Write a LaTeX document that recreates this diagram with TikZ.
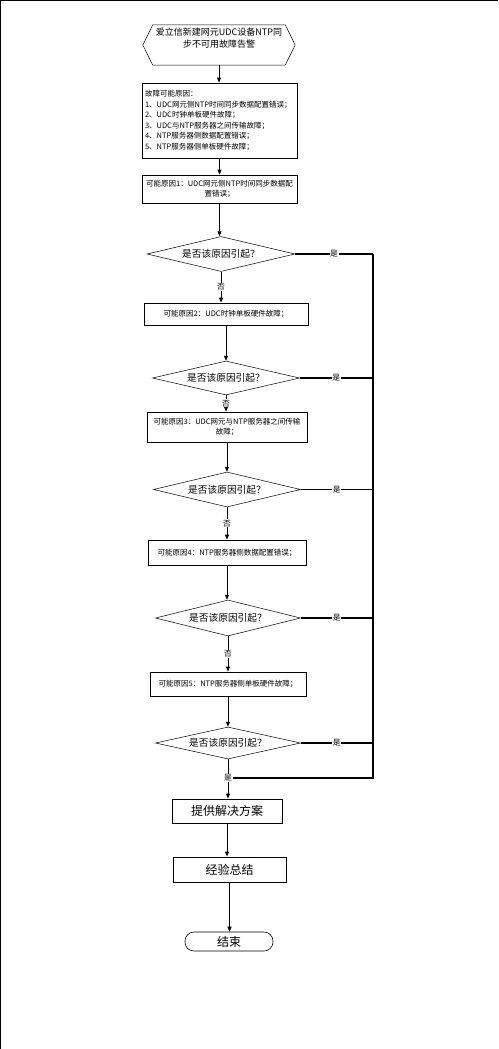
\documentclass[tikz,border=0pt]{standalone}
\usepackage{fontspec}
\newfontfamily\cjk{Noto Sans CJK SC}
\usetikzlibrary{shapes.geometric,arrows.meta}
\begin{document}
\begin{tikzpicture}[x=1pt,y=-1pt,
  box/.style={draw, line width=0.8pt, inner sep=1pt, font=\cjk\fontsize{7.5}{10.5}\selectfont, align=center},
  bigbox/.style={draw, line width=0.8pt, inner sep=1pt, font=\cjk\fontsize{12}{14}\selectfont},
  dia/.style={diamond, draw, line width=0.5pt, aspect=4.2, inner sep=0pt, font=\cjk\fontsize{9.7}{12}\selectfont},
  arr/.style={-{Triangle[length=5pt,width=4pt]}, line width=0.9pt},
  lbl/.style={fill=white, inner sep=0.6pt, font=\cjk\fontsize{7.8}{9}\selectfont},
  bus/.style={line width=1.3pt}]
\useasboundingbox (0,0) rectangle (498,1049);
% page border
\draw[line width=1.2pt] (0,1049) -- (0,0.6) -- (498,0.6);
% start hexagon
\node (start) [minimum width=152pt, minimum height=40pt, inner sep=0pt] at (219,45) {};
\draw[line width=0.5pt] (start.west) -- ([xshift=10pt]start.north west) -- ([xshift=-10pt]start.north east) -- (start.east) -- ([xshift=-10pt]start.south east) -- ([xshift=10pt]start.south west) -- cycle;
\node (starttxt) [align=center, inner sep=0pt, font=\cjk\fontsize{9}{11.5}\selectfont] at (219,38) {爱立信新建网元UDC设备NTP同\\步不可用故障告警};
% causes
\node (causes) [box, align=left, text width=149pt, inner sep=3pt, minimum height=75pt] at (219.5,120.5) {故障可能原因：\\1、UDC网元侧NTP时间同步数据配置错误；\\2、UDC时钟单板硬件故障；\\3、UDC与NTP服务器之间传输故障；\\4、NTP服务器侧数据配置错误；\\5、NTP服务器侧单板硬件故障；};
\node (r1) [box, minimum width=155pt, minimum height=28pt] at (219.5,189) {可能原因1：UDC网元侧NTP时间同步数据配\\置错误；};
\node (d1) [dia, minimum width=148pt, minimum height=35pt] at (221,254) {是否该原因引起？};
\node (r2) [box, minimum width=164pt, minimum height=22pt] at (226,314) {可能原因2：UDC时钟单板硬件故障；};
\node (d2) [dia, minimum width=147pt, minimum height=34pt] at (226,378) {是否该原因引起？};
\node (r3) [box, minimum width=160pt, minimum height=30pt] at (227,427) {可能原因3：UDC网元与NTP服务器之间传输\\故障；};
\node (d3) [dia, minimum width=147pt, minimum height=35pt] at (227,489.5) {是否该原因引起？};
\node (r4) [box, minimum width=158pt, minimum height=25pt] at (227,552.5) {可能原因4：NTP服务器侧数据配置错误；};
\node (d4) [dia, minimum width=145pt, minimum height=36pt] at (228,618) {是否该原因引起？};
\node (r5) [box, minimum width=156pt, minimum height=24pt] at (228,684) {可能原因5：NTP服务器侧单板硬件故障；};
\node (d5) [dia, minimum width=145pt, minimum height=32pt] at (228,743) {是否该原因引起？};
\node (sol) [bigbox, minimum width=110pt, minimum height=24pt] at (227,811) {提供解决方案};
\node (sum) [bigbox, minimum width=113pt, minimum height=25pt] at (229.5,869.5) {经验总结};
\node (end) [draw, line width=0.6pt, rounded corners=9pt, minimum width=88pt, minimum height=19pt, inner sep=1pt, font=\cjk\fontsize{12}{14}\selectfont] at (229,941.5) {结束};
% main flow
\draw[arr] (start.south) -- (start.south |- causes.north);
\draw[arr] (causes.south) -- (causes.south |- r1.north);
\draw[arr] (r1.south) -- (r1.south |- d1.north);
\draw[arr] (d1.south) -- node[lbl]{否} (d1.south |- r2.north);
\draw[arr] (r2.south) -- (r2.south |- d2.north);
\draw[arr] (d2.south) -- node[lbl]{否} (d2.south |- r3.north);
\draw[arr] (r3.south) -- (r3.south |- d3.north);
\draw[arr] (d3.south) -- node[lbl]{否} (d3.south |- r4.north);
\draw[arr] (r4.south) -- (r4.south |- d4.north);
\draw[arr] (d4.south) -- node[lbl]{否} (d4.south |- r5.north);
\draw[arr] (r5.south) -- (r5.south |- d5.north);
\draw[arr] (d5.south) -- (d5.south |- sol.north);
\draw[arr] (sol.south) -- (sol.south |- sum.north);
\draw[arr] (sum.south) -- (sum.south |- end.north);
% yes bus
\coordinate (b1) at (373,254);
\coordinate (b2) at (373,378);
\coordinate (b3) at (373,489.5);
\coordinate (b4) at (373,618);
\coordinate (b5) at (373,743);
\coordinate (bend) at (373,778);
\coordinate (join) at (d5.south |- bend);
\draw[bus] (d1.east) -- node[lbl]{是} (b1);
\draw[bus] (d2.east) -- node[lbl]{是} (b2);
\draw[bus] (d3.east) -- node[lbl]{是} (b3);
\draw[bus] (d4.east) -- node[lbl]{是} (b4);
\draw[bus] (d5.east) -- node[lbl]{是} (b5);
\draw[bus] (b1) -- (bend) -- (join);
\node[lbl] at (join) {是};
\end{tikzpicture}
\end{document}
